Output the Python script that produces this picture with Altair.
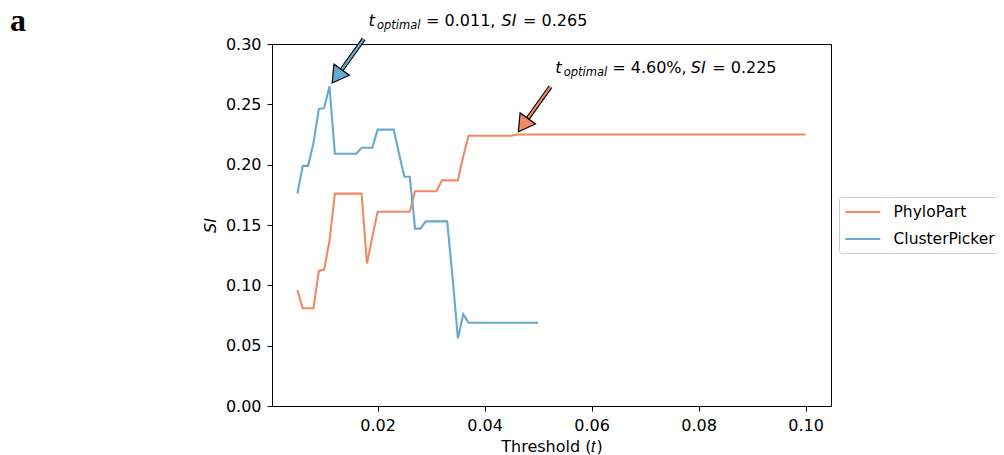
import altair as alt
import pandas as pd

# ---------------- data ----------------
series_names = ["PhyloPart", "ClusterPicker"]
series_colors = ["#ef8a62", "#67a9cf"]

phylo_t = [0.005, 0.006, 0.008, 0.009, 0.010, 0.011, 0.012, 0.017, 0.018, 0.019,
           0.020, 0.026, 0.027, 0.031, 0.032, 0.035, 0.036, 0.037, 0.045, 0.046, 0.100]
phylo_si = [0.096, 0.081, 0.081, 0.112, 0.113, 0.137, 0.176, 0.176, 0.118, 0.140,
            0.161, 0.161, 0.178, 0.178, 0.187, 0.187, 0.207, 0.224, 0.224, 0.225, 0.225]

cp_t = [0.005, 0.006, 0.007, 0.008, 0.009, 0.010, 0.011, 0.012, 0.016, 0.017,
        0.019, 0.020, 0.023, 0.024, 0.025, 0.026, 0.027, 0.028, 0.029, 0.033,
        0.034, 0.035, 0.036, 0.037, 0.050]
cp_si = [0.176, 0.199, 0.199, 0.218, 0.246, 0.247, 0.265, 0.209, 0.209, 0.214,
         0.214, 0.229, 0.229, 0.209, 0.190, 0.190, 0.147, 0.147, 0.153, 0.153,
         0.107, 0.056, 0.076, 0.069, 0.069]

x_ticks = [0.02, 0.04, 0.06, 0.08, 0.10]
y_ticks = [0.00, 0.05, 0.10, 0.15, 0.20, 0.25, 0.30]

# annotations (data coordinates)
ann_tip_t = [0.0115, 0.0463]
ann_tip_si = [0.2677, 0.2273]
ann_tail_t = [0.0174, 0.0523]
ann_tail_si = [0.3041, 0.2646]
ann_text_t = [0.0183, 0.0532]
ann_text_si = [0.3153, 0.2762]
ann_t_text = ["0.011", "4.60%"]
ann_si_text = ["0.265", "0.225"]

FONT = "DejaVu Sans"

df = pd.DataFrame({
    "t": phylo_t + cp_t,
    "si": phylo_si + cp_si,
    "series": [series_names[0]] * len(phylo_t) + [series_names[1]] * len(cp_t),
})

xs = alt.Scale(domain=[0.00025, 0.10475], nice=False, zero=False)
ys = alt.Scale(domain=[0.0, 0.30], nice=False, zero=False)

lines = alt.Chart(df).mark_line(strokeWidth=2.1).encode(
    x=alt.X("t:Q", scale=xs,
            axis=alt.Axis(values=x_ticks, format=".2f", title="Threshold (𝑡)")),
    y=alt.Y("si:Q", scale=ys,
            axis=alt.Axis(values=y_ticks, format=".2f", title="SI",
                          titleFontStyle="italic")),
    color=alt.Color("series:N",
                    scale=alt.Scale(domain=series_names, range=series_colors),
                    sort=series_names,
                    legend=alt.Legend(
                        title=None, orient="none", legendX=567, legendY=153,
                        symbolType="M-1,0L3,0", symbolSize=306,
                        symbolStrokeWidth=2, labelFont=FONT, labelFontSize=15.5,
                        labelColor="black", labelOffset=29.5, padding=5,
                        rowPadding=8, strokeColor="#cccccc", cornerRadius=3,
                        fillColor="white")),
)

layers = [lines]

ARROW = "M0,0L-0.58,1L0.58,1Z"
for i in range(2):
    col = series_colors[1] if i == 0 else series_colors[0]
    tip_t, tip_si = ann_tip_t[i], ann_tip_si[i]
    tail_t, tail_si = ann_tail_t[i], ann_tail_si[i]
    end_t = tip_t + 0.25 * (tail_t - tip_t)
    end_si = tip_si + 0.25 * (tail_si - tip_si)
    sdf = pd.DataFrame({"t": [tail_t], "si": [tail_si], "t2": [end_t], "si2": [end_si]})
    enc = dict(x=alt.X("t:Q", scale=xs), y=alt.Y("si:Q", scale=ys),
               x2="t2:Q", y2="si2:Q")
    layers.append(alt.Chart(sdf).mark_rule(color="black", strokeWidth=4.4,
                                           strokeCap="butt").encode(**enc))
    layers.append(alt.Chart(sdf).mark_rule(color=col, strokeWidth=2.2,
                                           strokeCap="butt").encode(**enc))
    hdf = pd.DataFrame({"t": [tip_t], "si": [tip_si]})
    layers.append(alt.Chart(hdf).mark_point(
        shape=ARROW, size=1063, angle=215.5, filled=True, fill=col,
        stroke="black", strokeWidth=1.2, opacity=1, fillOpacity=1,
        strokeOpacity=1).encode(x=alt.X("t:Q", scale=xs), y=alt.Y("si:Q", scale=ys)))

    # annotation text segments (no leading/trailing spaces: SVG trims them)
    tdf = pd.DataFrame({"t": [ann_text_t[i]], "si": [ann_text_si[i]]})
    eq_dx = 57.5 if i == 0 else 57
    si_dx = 133 if i == 0 else 135.5
    segs = [
        ("t", 0, 0, 16.5, "italic"),
        ("optimal", 8.4, 3, 11.5, "italic"),
        (f"= {ann_t_text[i]},", eq_dx, 0, 16, "normal"),
        ("SI", si_dx, 0, 16, "italic"),
        (f"= {ann_si_text[i]}", si_dx + 21.5, 0, 16, "normal"),
    ]
    for txt, dx, dy, fs, style in segs:
        layers.append(alt.Chart(tdf).mark_text(
            text=txt, align="left", baseline="alphabetic", dx=dx, dy=dy,
            font=FONT, fontSize=fs, fontStyle=style, color="black",
        ).encode(x=alt.X("t:Q", scale=xs), y=alt.Y("si:Q", scale=ys)))

panel = alt.Chart(pd.DataFrame({"lab": ["a"]})).mark_text(
    align="left", baseline="alphabetic", font="Liberation Serif",
    fontWeight="bold", fontSize=32, color="black",
).encode(text="lab:N", x=alt.value(-262), y=alt.value(-13))
layers.append(panel)

chart = alt.layer(*layers).properties(
    width=559, height=362,
    padding={"left": 264, "top": 36, "right": 165, "bottom": 49},
    autosize=alt.AutoSizeParams(type="none"),
).configure_view(
    stroke="black", strokeWidth=1
).configure_axis(
    labelFont=FONT, labelFontSize=16, labelColor="black",
    titleFont=FONT, titleFontSize=16, titleFontWeight="normal", titleColor="black",
    tickColor="black", tickSize=5, tickWidth=1, domain=False, grid=False,
    labelPadding=6,
).configure_axisX(titlePadding=5).configure_axisY(titlePadding=7)

chart.save("out.html", embed_options={"renderer": "svg", "actions": False})
